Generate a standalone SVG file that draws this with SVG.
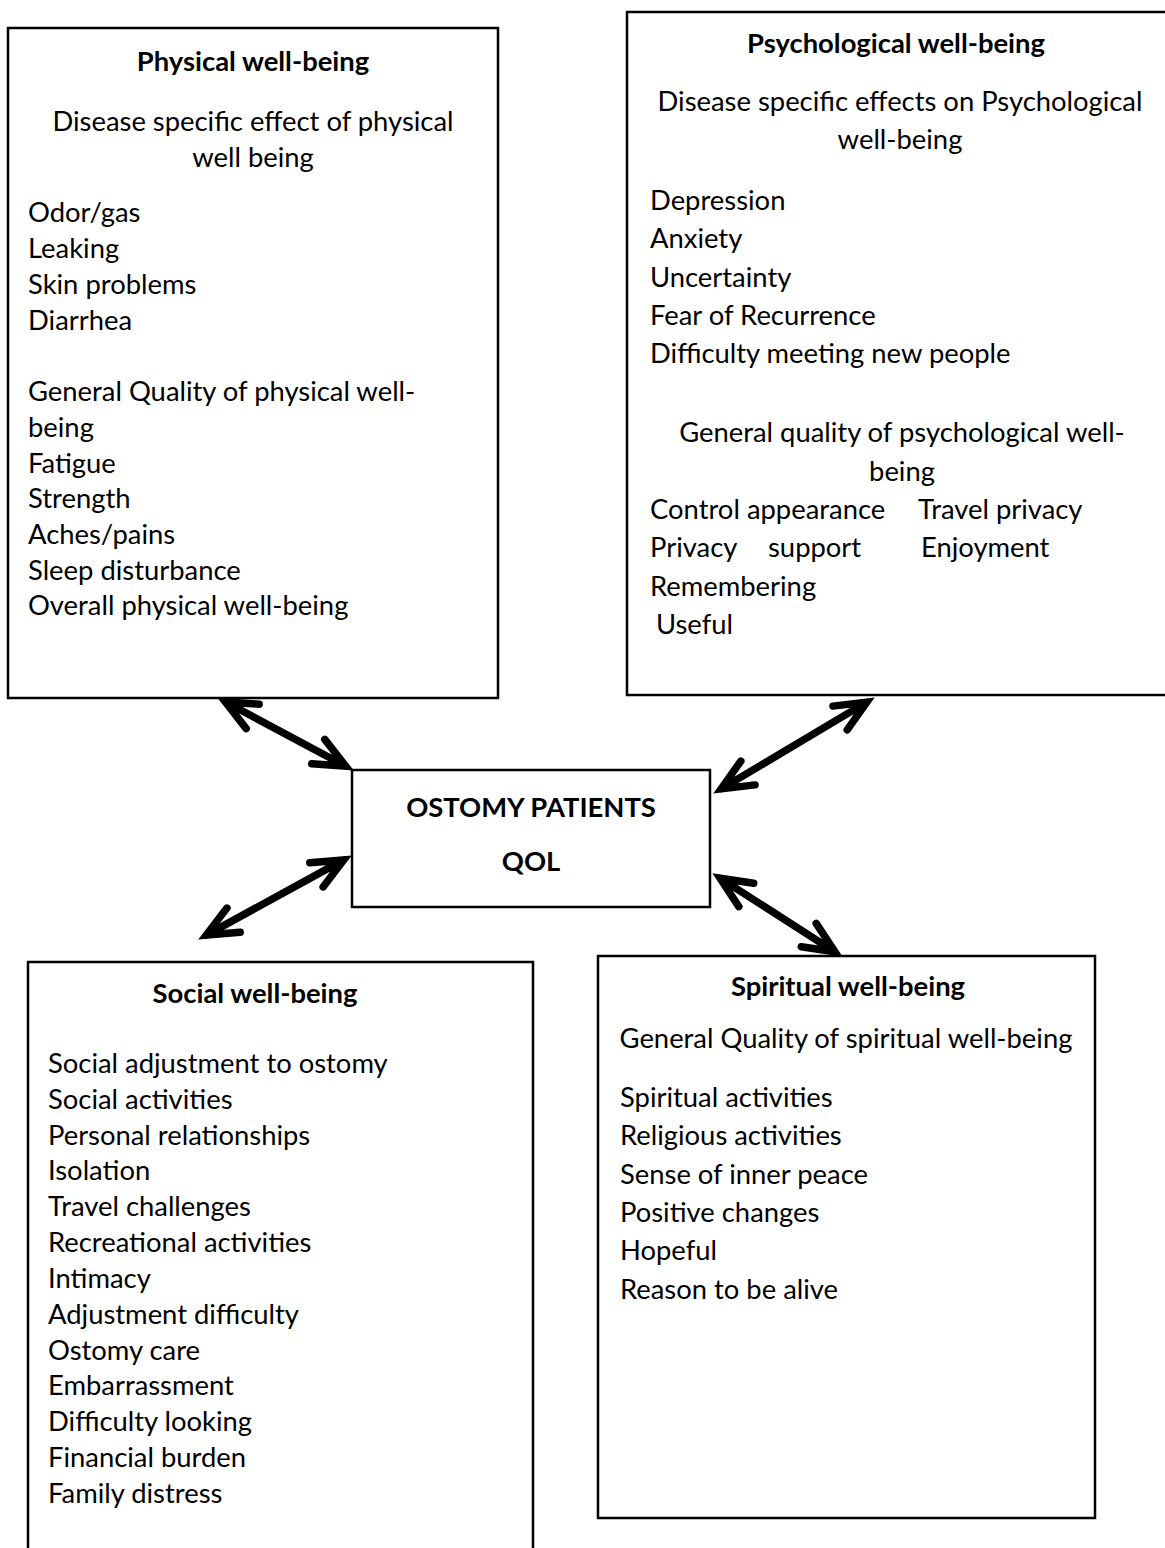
<svg xmlns="http://www.w3.org/2000/svg" width="1165" height="1548" viewBox="0 0 1165 1548">
<style>
.box{fill:#fff;stroke:#000;stroke-width:2.5}
text{font-family:Lato,"Open Sans","Liberation Sans",sans-serif;font-size:27.4px;fill:#000}
.t{font-weight:bold}
.c{text-anchor:middle}
.arr{fill:none;stroke:#000;stroke-width:7.5;stroke-linecap:round;stroke-linejoin:miter;stroke-miterlimit:10}
</style>
<rect width="1165" height="1548" fill="#fff"/>
<g id="physical">
<rect class="box" x="8" y="28" width="490" height="670"/>
<text class="t c" x="253" y="71">Physical well-being</text>
<text class="c" x="253" y="131">Disease specific effect of physical</text>
<text class="c" x="253" y="167">well being</text>
<text x="28" y="222">Odor/gas</text>
<text x="28" y="258">Leaking</text>
<text x="28" y="294">Skin problems</text>
<text x="28" y="330">Diarrhea</text>
<text x="28" y="401">General Quality of physical well-</text>
<text x="28" y="437">being</text>
<text x="28" y="473">Fatigue</text>
<text x="28" y="508">Strength</text>
<text x="28" y="544">Aches/pains</text>
<text x="28" y="580">Sleep disturbance</text>
<text x="28" y="615">Overall physical well-being</text>
</g>
<g id="psychological">
<rect class="box" x="627" y="12" width="545" height="683"/>
<text class="t c" x="896" y="53">Psychological well-being</text>
<text class="c" x="900" y="111">Disease specific effects on Psychological</text>
<text class="c" x="900" y="149">well-being</text>
<text x="650" y="210">Depression</text>
<text x="650" y="248">Anxiety</text>
<text x="650" y="287">Uncertainty</text>
<text x="650" y="325">Fear of Recurrence</text>
<text x="650" y="363">Difficulty meeting new people</text>
<text class="c" x="902" y="442">General quality of psychological well-</text>
<text class="c" x="902" y="481">being</text>
<text x="650" y="519">Control appearance</text>
<text x="918" y="519">Travel privacy</text>
<text x="650" y="557">Privacy</text>
<text x="768" y="557">support</text>
<text x="921" y="557">Enjoyment</text>
<text x="650" y="596">Remembering</text>
<text x="656" y="634">Useful</text>
</g>
<g id="center">
<rect class="box" x="352" y="770" width="358" height="137"/>
<text class="t c" x="531" y="817">OSTOMY PATIENTS</text>
<text class="t c" x="531" y="871">QOL</text>
</g>
<g id="social">
<rect class="box" x="28" y="962" width="505" height="600"/>
<text class="t c" x="255" y="1003">Social well-being</text>
<text x="48" y="1073">Social adjustment to ostomy</text>
<text x="48" y="1109">Social activities</text>
<text x="48" y="1145">Personal relationships</text>
<text x="48" y="1180">Isolation</text>
<text x="48" y="1216">Travel challenges</text>
<text x="48" y="1252">Recreational activities</text>
<text x="48" y="1288">Intimacy</text>
<text x="48" y="1324">Adjustment difficulty</text>
<text x="48" y="1360">Ostomy care</text>
<text x="48" y="1395">Embarrassment</text>
<text x="48" y="1431">Difficulty looking</text>
<text x="48" y="1467">Financial burden</text>
<text x="48" y="1503">Family distress</text>
</g>
<g id="spiritual">
<rect class="box" x="598" y="956" width="497" height="562"/>
<text class="t c" x="848" y="996">Spiritual well-being</text>
<text class="c" x="846" y="1048">General Quality of spiritual well-being</text>
<text x="620" y="1107">Spiritual activities</text>
<text x="620" y="1145">Religious activities</text>
<text x="620" y="1184">Sense of inner peace</text>
<text x="620" y="1222">Positive changes</text>
<text x="620" y="1260">Hopeful</text>
<text x="620" y="1299">Reason to be alive</text>
</g>
<g id="connectors">
<path class="arr" d="M225.3,701.8 L345.7,766.2 M259.2,704.2 L225.3,701.8 L246.2,728.6 M311.8,763.8 L345.7,766.2 L324.8,739.4"/>
<path class="arr" d="M866.8,702.1 L721.2,788.9 M847.2,729.9 L866.8,702.1 L833,706.1 M740.8,761.1 L721.2,788.9 L755,784.9"/>
<path class="arr" d="M343.7,859.9 L206.3,935.1 M323.1,886.9 L343.7,859.9 L309.8,862.7 M226.9,908.1 L206.3,935.1 L240.2,932.3"/>
<path class="arr" d="M720.1,878.2 L834.9,951.8 M753.7,883.3 L720.1,878.2 L738.8,906.6 M801.3,946.7 L834.9,951.8 L816.2,923.4"/>
</g>
</svg>
